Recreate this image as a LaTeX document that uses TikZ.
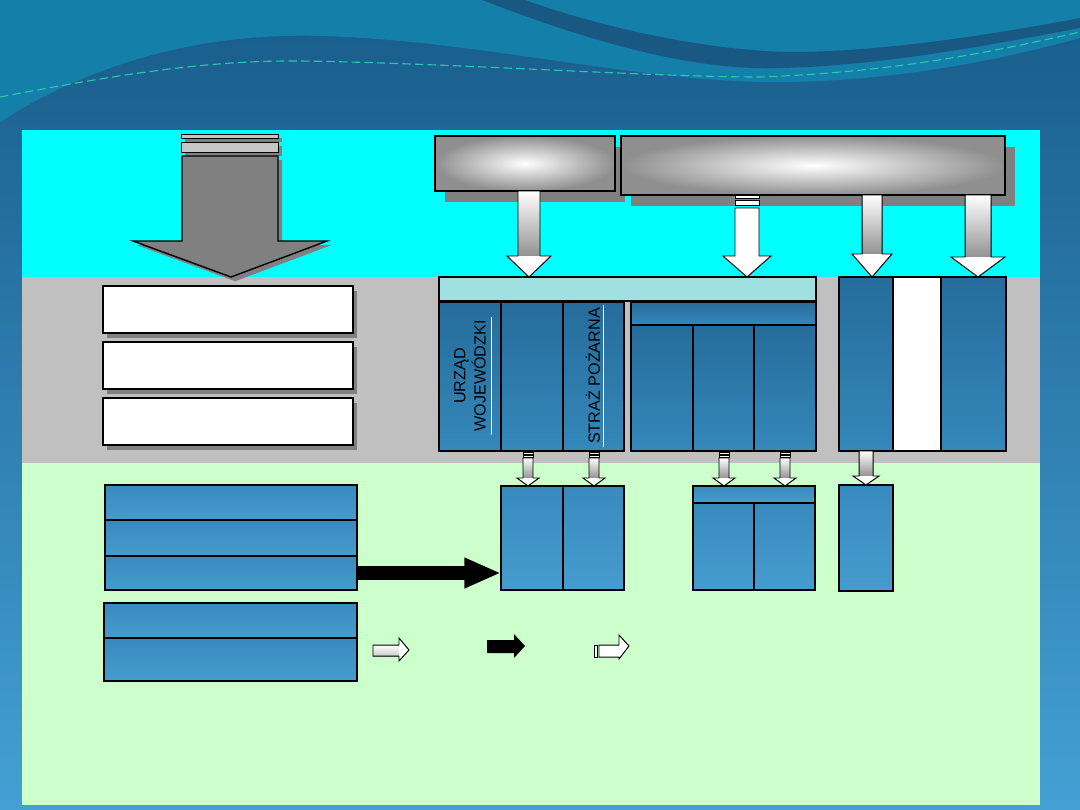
\documentclass[tikz,border=0pt]{standalone}
\usepackage{fontspec}
\setmainfont{Liberation Sans}
\usetikzlibrary{positioning,arrows.meta,shadows}
\definecolor{SlideTop}{RGB}{24,92,138}
\definecolor{SlideBot}{RGB}{68,160,212}
\definecolor{WaveLite}{RGB}{20,128,170}
\definecolor{WaveDark}{RGB}{26,88,132}
\definecolor{WaveLine}{RGB}{40,200,170}
\definecolor{PanelCyan}{RGB}{0,255,255}
\definecolor{PanelGrey}{RGB}{192,192,192}
\definecolor{PanelGreen}{RGB}{204,255,204}
\definecolor{BarTeal}{RGB}{160,224,224}
\definecolor{BlueTop}{RGB}{37,108,155}
\definecolor{BlueBot}{RGB}{52,136,186}
\definecolor{LowTop}{RGB}{56,138,190}
\definecolor{LowBot}{RGB}{70,156,206}
\definecolor{ShadowGrey}{RGB}{128,128,128}

\def\pxu{0.025cm}

% block arrow pointing down: x, start, end, shaft half, head half, head length, shaft shading
\newcommand{\dnarrow}[7]{%
  \path (#1,0 |- #2) coordinate (dn-a) (#1,0 |- #3) coordinate (dn-b);
  \shade[#7] ([xshift=-#4*\pxu]dn-a) rectangle ([xshift=#4*\pxu, yshift=#6*\pxu]dn-b);
  \fill[white] ([xshift=-#5*\pxu, yshift=#6*\pxu]dn-b) -- (dn-b) -- ([xshift=#5*\pxu, yshift=#6*\pxu]dn-b) -- cycle;
  \draw[outline] ([xshift=-#4*\pxu]dn-a) -- ([xshift=-#4*\pxu, yshift=#6*\pxu]dn-b)
    -- ([xshift=-#5*\pxu, yshift=#6*\pxu]dn-b) -- (dn-b) -- ([xshift=#5*\pxu, yshift=#6*\pxu]dn-b)
    -- ([xshift=#4*\pxu, yshift=#6*\pxu]dn-b) -- ([xshift=#4*\pxu]dn-a) -- cycle;
}

\begin{document}
\begin{tikzpicture}[x=0.025cm, y=-0.025cm,
  every node/.style={inner sep=0pt, outer sep=0pt, anchor=north west},
  sz/.style 2 args={minimum width=#1*\pxu, minimum height=#2*\pxu},
  srcbox/.style={draw, line width=1pt, inner color=white, outer color=gray!88,
    drop shadow={shadow xshift=7pt, shadow yshift=-8pt, fill=ShadowGrey, opacity=1}},
  whitebox/.style={draw, line width=1pt, fill=white,
    drop shadow={shadow xshift=3pt, shadow yshift=-3.3pt, fill=ShadowGrey, opacity=1}},
  bluebox/.style={draw, line width=1.6pt, top color=BlueTop, bottom color=BlueBot},
  lowbox/.style={draw, line width=1.6pt, top color=LowTop, bottom color=LowBot},
  barbox/.style={draw, line width=2pt, fill=BarTeal},
  vlabel/.style={anchor=center, rotate=90, align=center, font=\fontsize{11.5}{14.5}\selectfont},
  outline/.style={draw=black, line width=0.7pt},
  stripe/.style={draw=black, line width=0.7pt, fill=white},
  fatline/.style={line width=10pt, -{Triangle[length=26pt, width=20pt]}}
]
\useasboundingbox (0,0) rectangle (1080,810);

% slide background
\shade[top color=SlideTop, bottom color=SlideBot] (0,0) rectangle (1080,810);
\fill[WaveLite] (0,0) -- (0,122) .. controls (80,70) and (190,32) .. (320,36)
  .. controls (480,40) and (650,85) .. (790,82) .. controls (900,80) and (1000,60) .. (1080,38) -- (1080,0) -- cycle;
\fill[WaveDark] (482,0) .. controls (560,30) and (680,72) .. (780,68) .. controls (880,66) and (990,45) .. (1080,28)
  -- (1080,18) .. controls (990,35) and (880,52) .. (790,52) .. controls (690,50) and (580,20) .. (525,0) -- cycle;
\draw[WaveLine, line width=0.8pt, dash pattern=on 6pt off 3pt] (0,97) .. controls (100,78) and (200,60) .. (300,61)
  .. controls (450,63) and (650,77) .. (760,77) .. controls (900,72) and (1000,50) .. (1080,32);

% panel bands
\fill[PanelCyan] (22,130) rectangle (1040,277);
\fill[PanelGrey] (22,277) rectangle (1040,463);
\fill[PanelGreen] (22,463) rectangle (1040,805);

% big grey arrow
\filldraw[fill=gray!45, outline, drop shadow={shadow xshift=3pt, shadow yshift=-3pt, fill=ShadowGrey, opacity=1}]
  (181,134) rectangle (278,138);
\filldraw[fill=gray!45, outline, drop shadow={shadow xshift=3pt, shadow yshift=-3pt, fill=ShadowGrey, opacity=1}]
  (181,142) rectangle (278,152);
\filldraw[fill=ShadowGrey, line width=1pt, drop shadow={shadow xshift=3pt, shadow yshift=-3pt, fill=ShadowGrey, opacity=1}]
  (182,156) -- (278,156) -- (278,241) -- (327,241) -- (231,277) -- (133,241) -- (182,241) -- cycle;

% top sources
\node[srcbox, sz={180}{55}] (src1) at (435,136) {};
\node[srcbox, sz={384}{59}] (src2) at (621,136) {};

% left grey column
\node[whitebox, sz={250}{47}] (w1) at (103,286) {};
\node[whitebox, sz={250}{47}] (w2) at (103,342) {};
\node[whitebox, sz={250}{47}] (w3) at (103,398) {};

% grey band groups
\node[barbox, sz={377}{24}] (bar) at (439,277) {};
\node[bluebox, sz={62}{149}] (c1) at (439,302) {};
\node[bluebox, sz={62}{149}] (c2) at (501,302) {};
\node[bluebox, sz={61}{149}] (c3) at (563,302) {};
\node[bluebox, sz={185}{23}] (rtop) at (631,302) {};
\node[bluebox, sz={62}{126}] (r1) at (631,325) {};
\node[bluebox, sz={61}{126}] (r2) at (693,325) {};
\node[bluebox, sz={62}{126}] (r3) at (754,325) {};
\node[bluebox, sz={54}{174}] (f1) at (839,277) {};
\node[draw, line width=1.6pt, fill=white, sz={48}{174}] (f2) at (893,277) {};
\node[bluebox, sz={65}{174}] (f3) at (941,277) {};

\node[vlabel] (urzad) at (470,376) {URZĄD\\WOJEWÓDZKI};
\node[vlabel] (straz) at (593,376) {STRAŻ POŻARNA};
\draw[white, line width=0.7pt] (491,317) -- (491,435);
\draw[white, line width=0.7pt] (603,305) -- (603,447);

% green band
\node[lowbox, sz={252}{35}] (s1) at (105,485) {};
\node[lowbox, sz={252}{36}] (s2) at (105,520) {};
\node[lowbox, sz={252}{34}] (s3) at (105,556) {};
\node[lowbox, sz={253}{35}] (t1) at (104,603) {};
\node[lowbox, sz={253}{43}] (t2) at (104,638) {};
\node[lowbox, line width=1.2pt, sz={62}{104}] (a1) at (501,486) {};
\node[lowbox, line width=1.2pt, sz={61}{104}] (a2) at (563,486) {};
\node[lowbox, sz={122}{17}] (btop) at (693,486) {};
\node[lowbox, sz={61}{87}] (b1) at (693,503) {};
\node[lowbox, sz={61}{87}] (b2) at (754,503) {};
\node[lowbox, sz={54}{106}] (cbox) at (839,485) {};

% arrows
\dnarrow{529}{src1.south}{bar.north}{11}{22}{21}{top color=white, bottom color=gray!85}
\filldraw[stripe] (735,195) rectangle (759,198);
\filldraw[stripe] (735,200) rectangle (759,205);
\dnarrow{747}{747,208}{bar.north}{12}{24}{21}{top color=white, bottom color=white}
\dnarrow{872}{src2.south}{f1.north}{10}{20}{23}{top color=white, bottom color=gray!85}
\dnarrow{978}{src2.south}{f3.north}{13}{27}{20}{top color=white, bottom color=gray!85}

\foreach \xa/\tgt in {528/a1, 594/a2, 724/btop, 785/btop}{
  \filldraw[stripe] (\xa-5,452) rectangle (\xa+5,454);
  \filldraw[stripe] (\xa-5,455) rectangle (\xa+5,457);
  \dnarrow{\xa}{\xa,458}{\tgt.north}{5}{11}{8}{top color=white, bottom color=gray!85}
}
\dnarrow{866}{f1.south}{cbox.north}{7}{13}{9}{top color=white, bottom color=gray!85}

\draw[fatline] (s3.east) -- (s3.east -| a1.west);

% legend arrows
\shade[top color=white, bottom color=gray!40] (373,645) rectangle (399,656);
\fill[white] (399,638) -- (409,650) -- (399,661) -- cycle;
\draw[outline] (373,645) -- (399,645) -- (399,638) -- (409,650) -- (399,661) -- (399,656) -- (373,656) -- cycle;
\fill[black] (487,640) -- (514,640) -- (514,634) -- (525,646) -- (514,658) -- (514,653) -- (487,653) -- cycle;
\filldraw[stripe] (594,645) rectangle (597,657);
\filldraw[fill=white, outline] (599,645) -- (619,645) -- (619,635) -- (629,646) -- (619,659) -- (619,657) -- (599,657) -- cycle;
\end{tikzpicture}
\end{document}
